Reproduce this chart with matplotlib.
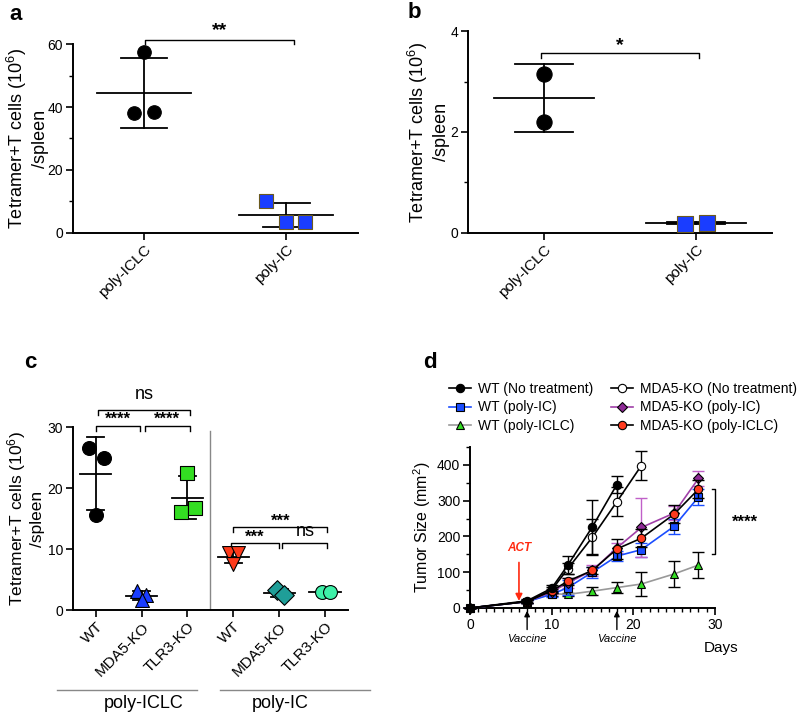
import numpy as np
import matplotlib
matplotlib.use('Agg')
import matplotlib.pyplot as plt
from matplotlib.lines import Line2D

plt.rcParams['font.family'] = 'Liberation Sans'
plt.rcParams['mathtext.fontset'] = 'custom'
plt.rcParams['mathtext.rm'] = 'Liberation Sans'
plt.rcParams['mathtext.it'] = 'Liberation Sans:italic'
plt.rcParams['axes.linewidth'] = 1.4

# ---- data ----
a_groups = ['poly-ICLC', 'poly-IC']
a_vals = [[57.5, 38.0, 38.3], [10.0, 3.5, 3.5]]

b_groups = ['poly-ICLC', 'poly-IC']
b_vals = [[3.15, 2.2], [0.17, 0.2]]

c_groups = ['WT', 'MDA5-KO', 'TLR3-KO', 'WT', 'MDA5-KO', 'TLR3-KO']
c_vals = [[26.5, 25.0, 15.5], [3.1, 2.4, 1.6], [22.5, 16.0, 16.8],
          [9.4, 9.3, 7.6], [3.3, 2.4], [2.9, 2.9]]

d_days = [0, 7, 10, 12, 15, 18, 21, 25, 28]
wt_none = [0, 20, 55, 120, 227, 345]
wt_none_err = [0, 5, 8, 25, 75, 25]
mda_none = [0, 18, 50, 110, 198, 297, 398]
mda_none_err = [0, 4, 8, 15, 50, 40, 40]
wt_ic = [0, 18, 38, 57, 100, 145, 163, 228, 310]
wt_ic_err = [0, 4, 8, 20, 15, 15, 20, 22, 22]
wt_iclc = [0, 18, 40, 38, 47, 57, 67, 95, 120]
wt_iclc_err = [0, 4, 6, 5, 12, 15, 33, 35, 37]
mda_ic = [0, 18, 45, 70, 105, 168, 225, 265, 362]
mda_ic_err = [0, 4, 6, 15, 15, 15, 83, 20, 20]
mda_iclc = [0, 18, 48, 75, 105, 165, 195, 262, 332]
mda_iclc_err = [0, 4, 6, 10, 10, 28, 25, 25, 25]

ylab = 'Tetramer+T cells (10$^6$)\n/spleen'


def style(ax):
    ax.spines['top'].set_visible(False)
    ax.spines['right'].set_visible(False)
    ax.tick_params(width=1.2, length=5, labelsize=10, pad=2)
    ax.tick_params(which='minor', width=1.0, length=3)


def dots(ax, vals, jit, colors, markers, size, mhalf, chalf, edges):
    for i, v in enumerate(vals):
        m = np.mean(v)
        sd = np.std(v, ddof=1)
        ax.plot([i - mhalf, i + mhalf], [m, m], color='k', lw=1.3, zorder=2)
        ax.plot([i, i], [m - sd, m + sd], color='k', lw=1.3, zorder=2)
        for y in (m - sd, m + sd):
            ax.plot([i - chalf, i + chalf], [y, y], color='k', lw=1.3, zorder=2)
        ax.scatter(i + np.array(jit[i]), v, s=size, c=colors[i], marker=markers[i],
                   edgecolors=edges[i], linewidths=0.8, zorder=3, clip_on=False)


def bracket(ax, x0, x1, y, h, txt, ty, fs=12, fw='normal'):
    ax.plot([x0, x0, x1, x1], [y - h, y, y, y - h], color='k', lw=1.0, clip_on=False)
    ax.text((x0 + x1) / 2, ty, txt, ha='center', va='center', fontsize=fs, fontweight=fw)


fig = plt.figure(figsize=(8, 7.25), dpi=100)

# ---------------- a ----------------
ax = fig.add_axes([0.091, 0.679, 0.356, 0.260])
style(ax)
dots(ax, a_vals, [[0, -0.07, 0.07], [-0.14, 0, 0.13]], ['black', '#1a3dff'], ['o', 's'],
     95, 0.33, 0.165, ['k', '#6b5a1e'])
ax.set_xlim(-0.5, 1.5)
ax.set_ylim(0, 60)
ax.set_yticks([0, 20, 40, 60])
ax.set_yticks([10, 30, 50], minor=True)
ax.set_xticks([0, 1])
ax.set_xticklabels(a_groups, rotation=45, ha='right', rotation_mode='anchor', fontsize=11)
ax.set_ylabel(ylab, fontsize=13)
ax.yaxis.set_label_coords(-0.085, 0.5)
bracket(ax, 0.01, 1.05, 61.3, 1.3, '**', 64.3, 14, 'bold')

# ---------------- b ----------------
ax = fig.add_axes([0.585, 0.679, 0.38, 0.278])
style(ax)
dots(ax, b_vals, [[0, 0], [-0.07, 0.07]], ['black', '#1a3dff'], ['o', 's'],
     120, 0.33, 0.19, ['k', '#6b5a1e'])
ax.set_xlim(-0.5, 1.5)
ax.set_ylim(0, 4)
ax.set_yticks([0, 2, 4])
ax.set_yticks([1, 3], minor=True)
ax.set_xticks([0, 1])
ax.set_xticklabels(b_groups, rotation=45, ha='right', rotation_mode='anchor', fontsize=11)
ax.set_ylabel(ylab, fontsize=13)
ax.yaxis.set_label_coords(-0.06, 0.5)
bracket(ax, -0.02, 1.02, 3.56, 0.09, '*', 3.71, 14, 'bold')

# ---------------- c ----------------
ax = fig.add_axes([0.091, 0.1586, 0.344, 0.2524])
style(ax)
c_jit = [[-0.15, 0.17, 0], [-0.1, 0.1, 0], [0, -0.15, 0.17],
         [-0.1, 0.1, 0], [-0.05, 0.1], [-0.07, 0.1]]
c_colors = ['black', '#1a3dff', '#33dd22', '#ff3a1a', '#1f9e98', '#3ef0a8']
c_markers = ['o', '^', 's', 'v', 'D', 'o']
dots(ax, c_vals, c_jit, c_colors, c_markers, 100, 0.34, 0.185, ['k'] * 6)
ax.axvline(2.5, ymin=0, ymax=0.98, color='#888888', lw=1.0)
ax.set_xlim(-0.5, 5.5)
ax.set_ylim(0, 30)
ax.set_yticks([0, 10, 20, 30])
ax.set_xticks(range(6))
ax.set_xticklabels(c_groups, rotation=45, ha='right', rotation_mode='anchor', fontsize=11)
ax.set_ylabel(ylab, fontsize=12.5)
ax.yaxis.set_label_coords(-0.1, 0.5)
bracket(ax, 0.05, 2.05, 32.8, 0.8, 'ns', 35.3, 13)
bracket(ax, 0.0, 0.97, 30.2, 0.8, '****', 31.2, 12, 'bold')
bracket(ax, 1.07, 2.05, 30.2, 0.8, '****', 31.2, 12, 'bold')
bracket(ax, 3.0, 5.05, 13.6, 0.8, '***', 14.6, 12, 'bold')
bracket(ax, 2.95, 4.0, 11.0, 0.8, '***', 12.0, 12, 'bold')
bracket(ax, 4.07, 5.05, 11.0, 0.8, 'ns', 12.9, 13)

fig.add_artist(Line2D([0.071, 0.246], [0.0483, 0.0483], color='#888888', lw=1.0))
fig.add_artist(Line2D([0.275, 0.4625], [0.0483, 0.0483], color='#888888', lw=1.0))
fig.text(0.179, 0.030, 'poly-ICLC', ha='center', va='center', fontsize=13)
fig.text(0.35, 0.030, 'poly-IC', ha='center', va='center', fontsize=13)

# ---------------- d ----------------
ax = fig.add_axes([0.5875, 0.1614, 0.306, 0.2221])
style(ax)
series = [
    (wt_none, wt_none_err, 'black', 'black', 'o', 'black', 'WT (No treatment)', 6),
    (wt_ic, wt_ic_err, '#1a4dff', '#1a4dff', 's', '#1a4dff', 'WT (poly-IC)', 4),
    (wt_iclc, wt_iclc_err, '#999999', '#33dd22', '^', 'black', 'WT (poly-ICLC)', 3),
    (mda_none, mda_none_err, 'black', 'white', 'o', 'black', 'MDA5-KO (No treatment)', 5),
    (mda_ic, mda_ic_err, '#a040a8', '#8e2a96', 'D', '#c060c8', 'MDA5-KO (poly-IC)', 4),
    (mda_iclc, mda_iclc_err, 'black', '#ff3b1f', 'o', 'black', 'MDA5-KO (poly-ICLC)', 5),
]
for y, e, lc, fc, mk, ec, lab, z in series:
    x = d_days[:len(y)]
    ax.errorbar(x, y, yerr=e, fmt='none', ecolor=ec, elinewidth=1.0, capsize=4,
                capthick=1.0, zorder=z, clip_on=False)
    ax.plot(x, y, color=lc, lw=1.2, marker=mk, markersize=6 if mk != 'D' else 5.5,
            markerfacecolor=fc, markeredgecolor='k', markeredgewidth=0.8,
            label=lab, zorder=z + 0.5, clip_on=False)
ax.set_xlim(0, 30)
ax.set_ylim(0, 450)
ax.set_xticks([0, 10, 20, 30])
ax.set_xticks(range(31), minor=True)
ax.set_yticks([0, 100, 200, 300, 400])
ax.set_yticks([50, 150, 250, 350, 450], minor=True)
ax.set_ylabel('Tumor Size (mm$^2$)', fontsize=11.5)
ax.yaxis.set_label_coords(-0.15, 0.5)

ax.plot([29.6, 30, 30, 29.6], [332, 332, 150, 150], color='k', lw=1.0, clip_on=False)
ax.text(33.7, 240, '****', ha='center', va='center', fontsize=12, fontweight='bold')

ax.annotate('', xy=(6, 12), xytext=(6, 135), annotation_clip=False,
            arrowprops=dict(arrowstyle='-|>', color='#ff2a10', lw=1.2, mutation_scale=10))
ax.text(6, 168, 'ACT', color='#ff2a10', fontsize=8.5, fontweight='bold', fontstyle='italic',
        ha='center', va='center')
for day in (7, 18):
    ax.annotate('', xy=(day, 0), xytext=(day, -68), annotation_clip=False,
                arrowprops=dict(arrowstyle='-|>', color='k', lw=1.0, mutation_scale=8))
    ax.text(day, -86, 'Vaccine', fontsize=8, fontstyle='italic', ha='center', va='center')
ax.text(30.8, -112, 'Days', fontsize=11, ha='center', va='center')

ax.legend(ncol=2, loc='lower left', bbox_to_anchor=(-0.11, 1.05), frameon=False,
          fontsize=10, handlelength=1.6, handletextpad=0.5, columnspacing=1.3,
          labelspacing=0.35, borderaxespad=0)

# panel letters
for lx, ly, t in [(16, 15, 'a'), (414, 12, 'b'), (30, 362, 'c'), (430, 362, 'd')]:
    fig.text(lx / 800, 1 - ly / 725, t, fontsize=16, fontweight='bold', ha='center', va='center')

fig.savefig('out.png', dpi=100)
